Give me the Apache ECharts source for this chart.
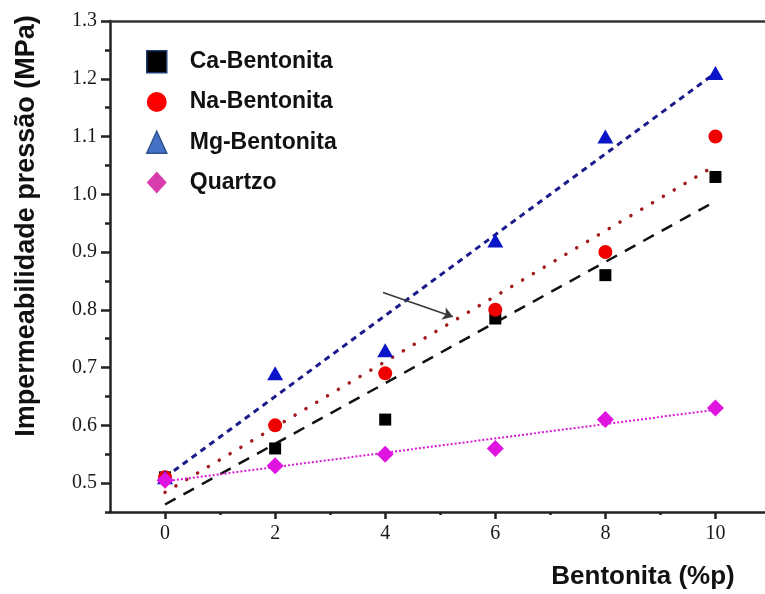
<!DOCTYPE html>
<html><head><meta charset="utf-8">
<script src="https://cdn.jsdelivr.net/npm/echarts@6/dist/echarts.min.js"></script>
<style>html,body{margin:0;padding:0;background:#fff}#c{width:765px;height:594px}</style>
</head><body><div id="c"></div>
<script>
// ---- data ----
const xValues = [0, 2, 4, 6, 8, 10];
const caValues = [0.51, 0.56, 0.61, 0.785, 0.86, 1.03];
const naValues = [0.51, 0.60, 0.69, 0.80, 0.90, 1.10];
const mgValues = [0.51, 0.69, 0.73, 0.92, 1.10, 1.21];
const qzValues = [0.505, 0.53, 0.55, 0.56, 0.61, 0.63];
// fitted trend lines (end points)
const caFit = [[0, 0.463], [10, 0.988]];
const naFit = [[0, 0.484], [10, 1.05]];
const mgFit = [[0, 0.51], [10, 1.21]];
const qzFit = [[0, 0.503], [10, 0.627]];
// axis ticks
const xTicks = [0, 2, 4, 6, 8, 10];
const xMinorTicks = [1, 3, 5, 7, 9];
const yTicks = [0.5, 0.6, 0.7, 0.8, 0.9, 1.0, 1.1, 1.2, 1.3];
const yMinorTicks = [0.45, 0.55, 0.65, 0.75, 0.85, 0.95, 1.05, 1.15, 1.25];
const seriesNames = ['Ca-Bentonita', 'Na-Bentonita', 'Mg-Bentonita', 'Quartzo'];
const xTitle = 'Bentonita (%p)';
const yTitle = 'Impermeabilidade pressão (MPa)';
// annotation arrow
const arrowFrom = [3.96, 0.83];
const arrowTo = [5.23, 0.788];

const pts = vals => xValues.map((x, i) => [x, vals[i]]);
const axisColor = '#222';
const labelFont = {fontFamily: 'Liberation Serif', fontSize: 20, color: '#1a1a1a'};

const chart = echarts.init(document.getElementById('c'), null, {renderer: 'canvas'});
chart.setOption({
  animation: false,
  backgroundColor: '#fff',
  grid: {left: 110, right: 0, top: 21, bottom: 82, containLabel: false},
  xAxis: [
    {type: 'value', min: -1, max: 10.9, position: 'bottom',
     axisLine: {onZero: false, lineStyle: {color: axisColor, width: 2.5}},
     axisTick: {customValues: xTicks, length: 7, lineStyle: {color: axisColor, width: 2.5}},
     axisLabel: Object.assign({customValues: xTicks, margin: 12}, labelFont),
     splitLine: {show: false}},
    {type: 'value', min: -1, max: 10.9, position: 'bottom',
     axisLine: {show: false, onZero: false},
     axisTick: {customValues: xMinorTicks, length: 3, lineStyle: {color: axisColor, width: 2.5}},
     axisLabel: {show: false}, splitLine: {show: false}},
    {type: 'value', min: -1, max: 10.9, position: 'top',
     axisLine: {onZero: false, lineStyle: {color: '#333', width: 2.5}},
     axisTick: {show: false}, axisLabel: {show: false}, splitLine: {show: false}}
  ],
  yAxis: [
    {type: 'value', min: 0.45, max: 1.3, position: 'left',
     axisLine: {onZero: false, lineStyle: {color: axisColor, width: 2.5}},
     axisTick: {customValues: yTicks, length: 9, lineStyle: {color: axisColor, width: 2.5}},
     axisLabel: Object.assign({customValues: yTicks, margin: 13,
       formatter: v => Number(v).toFixed(1)}, labelFont),
     splitLine: {show: false}},
    {type: 'value', min: 0.45, max: 1.3, position: 'left',
     axisLine: {show: false, onZero: false},
     axisTick: {customValues: yMinorTicks, length: 5, lineStyle: {color: axisColor, width: 2.5}},
     axisLabel: {show: false}, splitLine: {show: false}}
  ],
  legend: {
    orient: 'vertical', left: 141, top: 45, itemWidth: 20, itemHeight: 22, itemGap: 17,
    textStyle: {fontFamily: 'Liberation Sans', fontWeight: 'bold', fontSize: 23, color: '#111',
                padding: [0, 0, 0, 18]},
    data: [
      {name: seriesNames[0], icon: 'rect', itemStyle: {color: '#000', borderColor: '#203a70', borderWidth: 1.5}},
      {name: seriesNames[1], icon: 'circle', itemStyle: {color: '#ff0000', borderWidth: 0}},
      {name: seriesNames[2], icon: 'triangle', itemStyle: {color: '#4472c4', borderColor: '#2f528f', borderWidth: 1.5}},
      {name: seriesNames[3], icon: 'diamond', itemStyle: {color: '#d83cae', borderWidth: 0}}
    ]
  },
  graphic: [
    {type: 'text', x: 27, y: 226, rotation: Math.PI / 2,
     style: {text: yTitle, font: 'bold 27px "Liberation Sans"', fill: '#111', textAlign: 'center', textVerticalAlign: 'middle'}},
    {type: 'text', x: 643, y: 577,
     style: {text: xTitle, font: 'bold 26px "Liberation Sans"', fill: '#111', textAlign: 'center', textVerticalAlign: 'middle'}}
  ],
  series: [
    {name: 'fit-mg', type: 'line', data: mgFit, symbol: 'none', silent: true, z: 2,
     lineStyle: {color: '#1a1a8a', width: 3, type: [6, 5]}},
    {name: 'fit-na', type: 'line', data: naFit, symbol: 'none', silent: true, z: 2,
     lineStyle: {color: '#a3191c', width: 3.5, type: [0.1, 12.5], cap: 'round'}},
    {name: 'fit-ca', type: 'line', data: caFit, symbol: 'none', silent: true, z: 2,
     lineStyle: {color: '#111', width: 2.5, type: [12, 9]}},
    {name: 'fit-qz', type: 'line', data: qzFit, symbol: 'none', silent: true, z: 2,
     lineStyle: {color: '#d61ad6', width: 2, type: [2, 2]}},
    {name: seriesNames[0], type: 'scatter', data: pts(caValues), symbol: 'rect', symbolSize: 12, z: 3,
     itemStyle: {color: '#000', opacity: 1},
     markLine: {silent: true, symbol: ['none', 'arrow'], symbolSize: 10, z: 4,
       lineStyle: {color: '#3a3a3a', width: 1.8, type: 'solid'}, label: {show: false},
       data: [[{coord: arrowFrom}, {coord: arrowTo}]]}},
    {name: seriesNames[1], type: 'scatter', data: pts(naValues), symbol: 'circle', symbolSize: 14, z: 3,
     itemStyle: {color: '#ee0000', opacity: 1}},
    {name: seriesNames[2], type: 'scatter', data: pts(mgValues), symbol: 'triangle', symbolSize: [16, 14], z: 3,
     itemStyle: {color: '#0a14c8', opacity: 1}},
    {name: seriesNames[3], type: 'scatter', data: pts(qzValues), symbol: 'diamond', symbolSize: [17, 17], z: 3,
     itemStyle: {color: '#e014e0', opacity: 1}}
  ]
});
</script>
</body></html>
